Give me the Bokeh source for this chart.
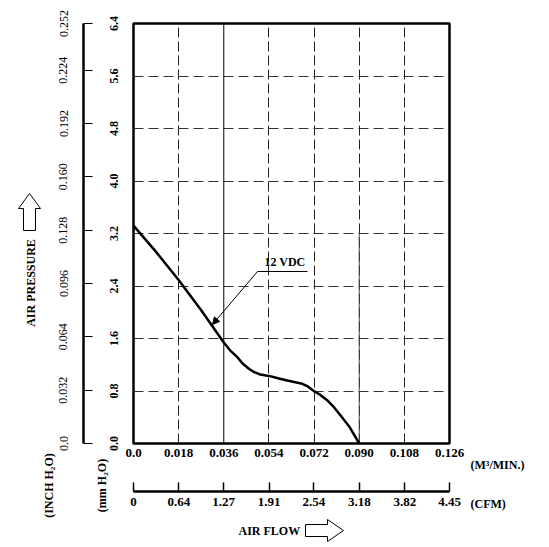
import math

from bokeh.plotting import figure
from bokeh.models import Range1d, LinearAxis, FixedTicker, Arrow, NormalHead, Span
from bokeh.core.properties import value
from bokeh.embed import file_html
from bokeh.resources import INLINE

# ---- P-Q curve of the fan at 12 VDC (air flow in m3/min, static pressure in mm H2O)
flow_m3min = [0.0, 0.009, 0.018, 0.027, 0.036, 0.0385, 0.0413, 0.0435, 0.046,
              0.048, 0.0506, 0.054, 0.058, 0.0613, 0.065, 0.0673, 0.0695,
              0.0719, 0.0745, 0.0772, 0.080, 0.0825, 0.086, 0.090]
pressure_mm = [3.32, 2.92, 2.49, 2.03, 1.54, 1.42, 1.32, 1.22, 1.14,
               1.09, 1.05, 1.03, 0.99, 0.96, 0.93, 0.91, 0.87,
               0.80, 0.74, 0.66, 0.55, 0.43, 0.26, 0.0]
curve_name = "12 VDC"

# ---- axis scales
m3_ticks = [0.0, 0.018, 0.036, 0.054, 0.072, 0.090, 0.108, 0.126]
m3_labels = ["0.0", "0.018", "0.036", "0.054", "0.072", "0.090", "0.108", "0.126"]
cfm_ticks = [0.0, 0.64, 1.27, 1.91, 2.54, 3.18, 3.82, 4.45]
cfm_labels = ["0", "0.64", "1.27", "1.91", "2.54", "3.18", "3.82", "4.45"]
mm_ticks = [0.0, 0.8, 1.6, 2.4, 3.2, 4.0, 4.8, 5.6, 6.4]
mm_labels = ["0.0", "0.8", "1.6", "2.4", "3.2", "4.0", "4.8", "5.6", "6.4"]
inch_ticks = [0.0, 0.032, 0.064, 0.096, 0.128, 0.160, 0.192, 0.224, 0.252]
inch_labels = ["0.0", "0.032", "0.064", "0.096", "0.128", "0.160", "0.192", "0.224", "0.252"]

FONT = "Liberation Serif"
W, H = 549, 547
FL, FR, FT, FB = 133, 449, 23, 443          # plot frame edges on the page
XMAX, YMAX = m3_ticks[-1], mm_ticks[-1]


def dx(px):
    """page x pixel -> flow value"""
    return (px - FL) / (FR - FL) * XMAX


def dy(py):
    """page y pixel -> pressure value"""
    return (FB - py) / (FB - FT) * YMAX


p = figure(width=W, height=H, output_backend="svg", toolbar_location=None,
           x_range=Range1d(0, XMAX), y_range=Range1d(0, YMAX),
           min_border_left=FL, min_border_right=W - FR,
           min_border_top=FT, min_border_bottom=H - FB)
p.background_fill_color = "white"
p.border_fill_color = "white"
p.outline_line_color = "black"
p.outline_line_width = 2.5

p.extra_x_ranges = {"cfm": Range1d(0, cfm_ticks[-1])}
p.extra_y_ranges = {"inch": Range1d(0, inch_ticks[-1])}


def style_labels(ax, size="13px", bold=True):
    ax.major_label_text_font = FONT
    ax.major_label_text_font_size = size
    ax.major_label_text_font_style = "bold" if bold else "normal"
    ax.major_label_text_color = "black"
    ax.minor_tick_line_color = None
    ax.minor_tick_in = 0
    ax.minor_tick_out = 0


# m3/min axis (bottom of frame): labels only
xa = p.xaxis[0]
xa.ticker = FixedTicker(ticks=m3_ticks)
xa.major_label_overrides = dict(zip(m3_ticks, m3_labels))
xa.axis_line_color = None
xa.major_tick_line_color = None
xa.major_tick_out = 0
xa.major_tick_in = 0
xa.major_label_standoff = 5
xa.axis_label = "|"                     # invisible spacer before the CFM scale
xa.axis_label_text_alpha = 0
xa.axis_label_text_font_size = "16px"
xa.axis_label_standoff = 12
style_labels(xa)

# CFM axis below it
cfm_axis = LinearAxis(x_range_name="cfm", ticker=FixedTicker(ticks=cfm_ticks))
cfm_axis.major_label_overrides = dict(zip(cfm_ticks, cfm_labels))
cfm_axis.axis_line_width = 2.5
cfm_axis.major_tick_in = 9
cfm_axis.major_tick_out = 0
cfm_axis.major_tick_line_width = 1.5
cfm_axis.major_label_standoff = 6
style_labels(cfm_axis)
p.add_layout(cfm_axis, "below")

# mm H2O axis (left of frame): labels only, rotated
ya = p.yaxis[0]
ya.ticker = FixedTicker(ticks=mm_ticks)
ya.major_label_overrides = dict(zip(mm_ticks, mm_labels))
ya.axis_line_color = None
ya.major_tick_line_color = None
ya.major_tick_out = 0
ya.major_tick_in = 0
ya.major_label_orientation = "vertical"
ya.major_label_standoff = 16
ya.axis_label = "|"                     # invisible spacer before the inch scale
ya.axis_label_text_alpha = 0
ya.axis_label_text_font_size = "14px"
ya.axis_label_standoff = 4
style_labels(ya, size="12px")

# inch H2O axis further left
inch_axis = LinearAxis(y_range_name="inch", ticker=FixedTicker(ticks=inch_ticks))
inch_axis.major_label_overrides = dict(zip(inch_ticks, inch_labels))
inch_axis.axis_line_width = 2.5
inch_axis.major_tick_in = 9
inch_axis.major_tick_out = 0
inch_axis.major_tick_line_width = 1.2
inch_axis.major_label_orientation = "vertical"
inch_axis.major_label_standoff = 16
style_labels(inch_axis, size="12px", bold=False)
p.add_layout(inch_axis, "left")

# grid
p.xgrid.ticker = FixedTicker(ticks=[0.018, 0.054, 0.072, 0.090, 0.108])
p.xgrid.grid_line_color = "#222222"
p.xgrid.grid_line_dash = "10 4"
p.xgrid.grid_line_width = 1
p.ygrid.ticker = FixedTicker(ticks=mm_ticks[1:-1])
p.ygrid.grid_line_color = "#333333"
p.ygrid.grid_line_dash = "10 5"
p.ygrid.grid_line_width = 1
p.add_layout(Span(location=m3_ticks[2], dimension="height",
                  line_color="black", line_width=1))
p.segment(x0=[m3_ticks[5]], y0=[0], x1=[m3_ticks[5]], y1=[mm_ticks[4]],
          line_color="#444444", line_width=1)

# the curve
p.line(flow_m3min, pressure_mm, line_color="black", line_width=2.5)

# curve callout
p.text(x=[dx(264)], y=[dy(268)], text=[curve_name], text_font=value(FONT),
       text_font_style="bold", text_font_size="12px", text_color="black",
       text_align="left", text_baseline="bottom")
p.segment(x0=[dx(257)], y0=[dy(271)], x1=[dx(307)], y1=[dy(271)],
          line_color="black", line_width=1)
p.add_layout(Arrow(end=NormalHead(size=7, fill_color="black", line_color="black"),
                   x_start=dx(257), y_start=dy(271), x_end=dx(212), y_end=dy(324),
                   line_color="black", line_width=1))


# unit and title texts around the frame (overlay level so they are not clipped)
def page_text(px, py, text, angle=0.0, align="center", size="12px"):
    p.text(x=[dx(px)], y=[dy(py)], text=[text], angle=angle,
           text_font=value(FONT), text_font_size=size, text_font_style="bold",
           text_color="black", text_align=align, text_baseline="middle",
           level="overlay")


page_text(470, 464, "(M³/MIN.)", align="left")
page_text(470, 503, "(CFM)", align="left")
page_text(238, 530, "AIR  FLOW", align="left")
page_text(30, 281, "AIR  PRESSURE", angle=math.pi / 2)
page_text(48, 485, "(INCH H₂O)", angle=math.pi / 2)
page_text(101, 485, "(mm H₂O)", angle=math.pi / 2)

# hollow direction arrows
ax_px = [305, 327, 327, 343, 327, 327, 305]
ay_px = [524, 524, 519, 530, 541, 536, 536]
p.patch([dx(v) for v in ax_px], [dy(v) for v in ay_px],
        fill_color="white", line_color="black", line_width=1, level="overlay")
vx_px = [23, 23, 18, 29, 40, 35, 35]
vy_px = [230, 208, 208, 193, 208, 208, 230]
p.patch([dx(v) for v in vx_px], [dy(v) for v in vy_px],
        fill_color="white", line_color="black", line_width=1, level="overlay")

open("out.html", "w").write(file_html(p, INLINE))
